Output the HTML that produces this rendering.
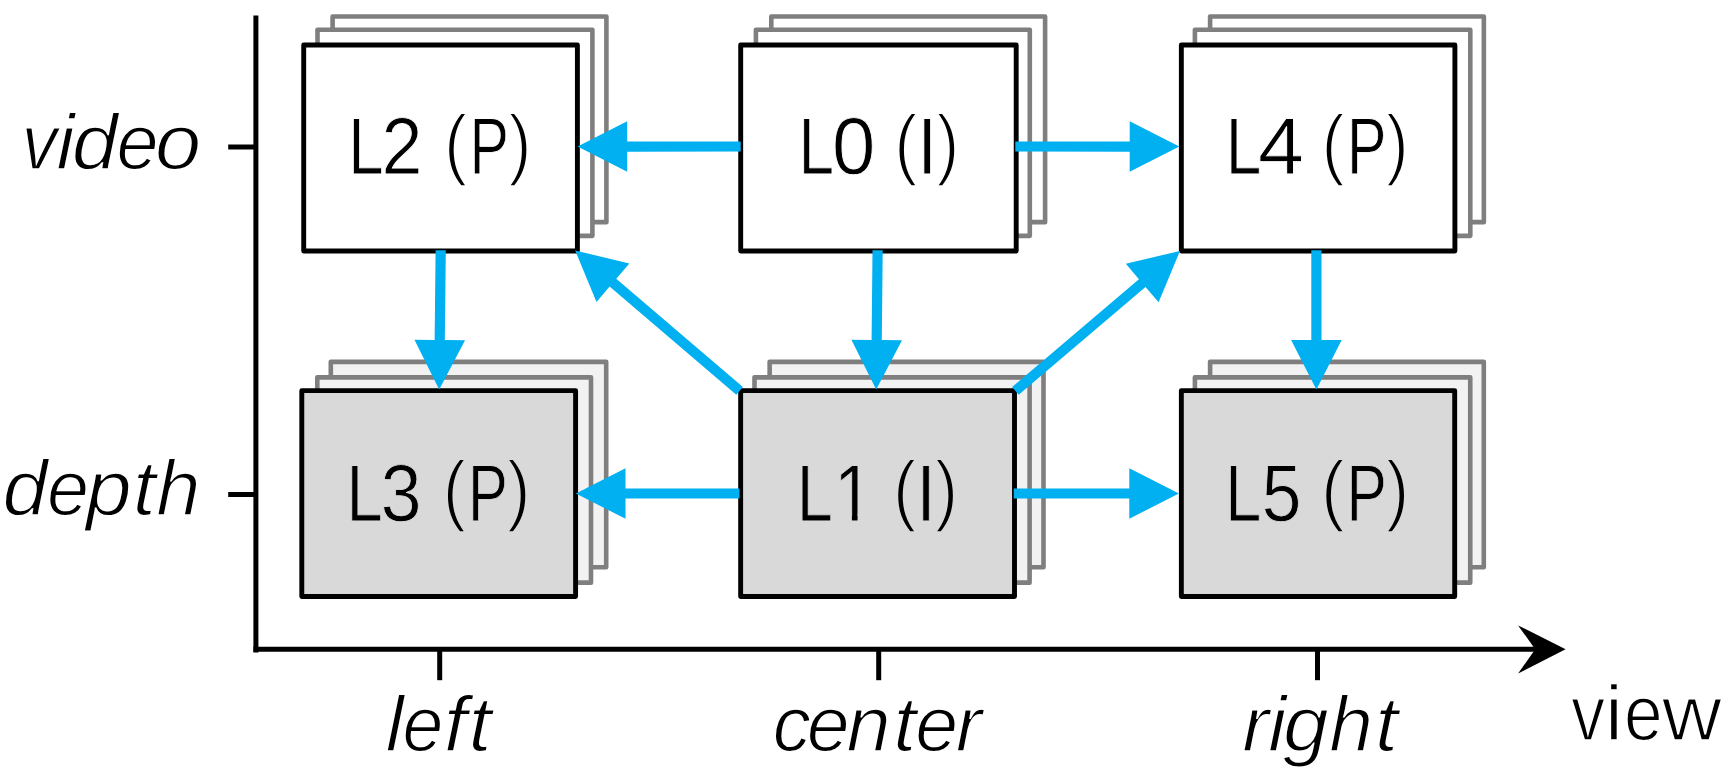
<!DOCTYPE html>
<html><head><meta charset="utf-8"><title>view/depth layer prediction structure</title>
<style>html,body{margin:0;padding:0;background:#fff}svg{display:block}text{font-family:"Liberation Sans",sans-serif;font-kerning:none;text-rendering:geometricPrecision}</style>
</head><body>
<svg width="1728" height="776" viewBox="0 0 1728 776">
<rect width="1728" height="776" fill="#fff"/>
<g stroke="#000" stroke-width="5" fill="none">
<path d="M255.9 15.5V652.5"/>
<path d="M253.4 649.3H1537"/>
<path d="M228.2 147H255"/>
<path d="M228.2 494.5H255"/>
<path d="M439.7 650V680.2"/>
<path d="M878.7 650V680.2"/>
<path d="M1317.5 650V680.2"/>
</g>
<path d="M1565.6 649.2L1518.1 625.4L1535.2 649.2L1518.1 673.6Z" fill="#000"/>
<rect x="332.60" y="16.45" width="273.80" height="205.70" fill="#fff" stroke="#7f7f7f" stroke-width="4.6" stroke-linejoin="round"/>
<rect x="317.50" y="29.75" width="274.90" height="206.10" fill="#fff" stroke="#7f7f7f" stroke-width="4.6" stroke-linejoin="round"/>
<rect x="303.70" y="45.05" width="273.70" height="206.00" fill="#fff" stroke="#000" stroke-width="4.9" stroke-linejoin="round"/>
<rect x="771.30" y="16.45" width="273.80" height="205.70" fill="#fff" stroke="#7f7f7f" stroke-width="4.6" stroke-linejoin="round"/>
<rect x="755.90" y="29.75" width="273.90" height="206.10" fill="#fff" stroke="#7f7f7f" stroke-width="4.6" stroke-linejoin="round"/>
<rect x="740.70" y="45.05" width="275.50" height="206.00" fill="#fff" stroke="#000" stroke-width="4.9" stroke-linejoin="round"/>
<rect x="1210.10" y="16.45" width="273.75" height="205.70" fill="#fff" stroke="#7f7f7f" stroke-width="4.6" stroke-linejoin="round"/>
<rect x="1194.90" y="29.75" width="275.40" height="206.10" fill="#fff" stroke="#7f7f7f" stroke-width="4.6" stroke-linejoin="round"/>
<rect x="1181.35" y="45.05" width="273.55" height="206.00" fill="#fff" stroke="#000" stroke-width="4.9" stroke-linejoin="round"/>
<rect x="330.80" y="361.85" width="275.40" height="205.40" fill="#f2f2f2" stroke="#7f7f7f" stroke-width="4.6" stroke-linejoin="round"/>
<rect x="317.30" y="377.35" width="273.70" height="205.30" fill="#f2f2f2" stroke="#7f7f7f" stroke-width="4.6" stroke-linejoin="round"/>
<rect x="301.80" y="390.65" width="273.80" height="205.90" fill="#d9d9d9" stroke="#000" stroke-width="4.9" stroke-linejoin="round"/>
<rect x="769.65" y="361.85" width="273.85" height="205.40" fill="#f2f2f2" stroke="#7f7f7f" stroke-width="4.6" stroke-linejoin="round"/>
<rect x="754.50" y="377.35" width="275.10" height="205.30" fill="#f2f2f2" stroke="#7f7f7f" stroke-width="4.6" stroke-linejoin="round"/>
<rect x="740.65" y="390.65" width="273.85" height="205.90" fill="#d9d9d9" stroke="#000" stroke-width="4.9" stroke-linejoin="round"/>
<rect x="1210.10" y="361.85" width="273.70" height="205.40" fill="#f2f2f2" stroke="#7f7f7f" stroke-width="4.6" stroke-linejoin="round"/>
<rect x="1194.90" y="377.35" width="275.35" height="205.30" fill="#f2f2f2" stroke="#7f7f7f" stroke-width="4.6" stroke-linejoin="round"/>
<rect x="1181.35" y="390.65" width="273.35" height="205.90" fill="#d9d9d9" stroke="#000" stroke-width="4.9" stroke-linejoin="round"/>
<text y="174" font-size="80.76" fill="#000" stroke="#fff" stroke-width="0.9"><tspan x="348.24" textLength="35.32" lengthAdjust="spacingAndGlyphs">L</tspan><tspan x="381.54" textLength="41.02" lengthAdjust="spacingAndGlyphs">2</tspan> <tspan x="444.00" y="169.96" font-size="78.68" stroke-width="1.9" textLength="23.36" lengthAdjust="spacingAndGlyphs">(</tspan><tspan x="469.39" y="174" textLength="39.48" lengthAdjust="spacingAndGlyphs">P</tspan><tspan x="508.14" y="169.96" font-size="78.68" stroke-width="1.9" textLength="23.36" lengthAdjust="spacingAndGlyphs">)</tspan></text>
<text y="174" font-size="80.76" fill="#000" stroke="#fff" stroke-width="0.9"><tspan x="798.50" textLength="35.57" lengthAdjust="spacingAndGlyphs">L</tspan><tspan x="831.91" textLength="43.34" lengthAdjust="spacingAndGlyphs">0</tspan> <tspan x="894.30" y="169.96" font-size="78.68" stroke-width="1.9" textLength="23.36" lengthAdjust="spacingAndGlyphs">(</tspan><tspan x="917.22" y="174" textLength="19.96" lengthAdjust="spacingAndGlyphs">I</tspan><tspan x="936.14" y="169.96" font-size="78.68" stroke-width="1.9" textLength="23.11" lengthAdjust="spacingAndGlyphs">)</tspan></text>
<text y="174" font-size="80.76" fill="#000" stroke="#fff" stroke-width="0.9"><tspan x="1225.80" textLength="35.57" lengthAdjust="spacingAndGlyphs">L</tspan><tspan x="1258.06" textLength="45.91" lengthAdjust="spacingAndGlyphs">4</tspan> <tspan x="1321.60" y="169.96" font-size="78.68" stroke-width="1.9" textLength="23.36" lengthAdjust="spacingAndGlyphs">(</tspan><tspan x="1346.89" y="174" textLength="39.48" lengthAdjust="spacingAndGlyphs">P</tspan><tspan x="1385.65" y="169.96" font-size="78.68" stroke-width="1.9" textLength="22.98" lengthAdjust="spacingAndGlyphs">)</tspan></text>
<text y="521" font-size="80.76" fill="#000" stroke="#d9d9d9" stroke-width="0.9"><tspan x="346.41" textLength="36.20" lengthAdjust="spacingAndGlyphs">L</tspan><tspan x="380.85" textLength="40.82" lengthAdjust="spacingAndGlyphs">3</tspan> <tspan x="442.70" y="516.36" font-size="78.68" stroke-width="1.9" textLength="23.36" lengthAdjust="spacingAndGlyphs">(</tspan><tspan x="468.05" y="521" textLength="39.85" lengthAdjust="spacingAndGlyphs">P</tspan><tspan x="506.83" y="516.36" font-size="78.68" stroke-width="1.9" textLength="23.86" lengthAdjust="spacingAndGlyphs">)</tspan></text>
<text y="521" font-size="80.76" fill="#000" stroke="#d9d9d9" stroke-width="0.9"><tspan x="796.77" textLength="36.14" lengthAdjust="spacingAndGlyphs">L</tspan><tspan x="834.08" textLength="39.21" lengthAdjust="spacingAndGlyphs">1</tspan> <tspan x="892.99" y="516.36" font-size="78.68" stroke-width="1.9" textLength="23.42" lengthAdjust="spacingAndGlyphs">(</tspan><tspan x="916.52" y="521" textLength="19.07" lengthAdjust="spacingAndGlyphs">I</tspan><tspan x="934.84" y="516.36" font-size="78.68" stroke-width="1.9" textLength="23.36" lengthAdjust="spacingAndGlyphs">)</tspan></text>
<text y="521" font-size="80.76" fill="#000" stroke="#d9d9d9" stroke-width="0.9"><tspan x="1225.33" textLength="36.07" lengthAdjust="spacingAndGlyphs">L</tspan><tspan x="1261.70" textLength="39.65" lengthAdjust="spacingAndGlyphs">5</tspan> <tspan x="1321.11" y="516.36" font-size="78.68" stroke-width="1.9" textLength="23.86" lengthAdjust="spacingAndGlyphs">(</tspan><tspan x="1346.49" y="521" textLength="40.35" lengthAdjust="spacingAndGlyphs">P</tspan><tspan x="1385.64" y="516.36" font-size="78.68" stroke-width="1.9" textLength="23.49" lengthAdjust="spacingAndGlyphs">)</tspan></text>
<path d="M836 514H851.9V523H836ZM857.55 514H873V523H857.55Z" fill="#d9d9d9"/>
<text y="169" font-size="78.18" font-style="italic" fill="#000" stroke="#fff" stroke-width="1.5"><tspan x="21.87" textLength="35.49" lengthAdjust="spacingAndGlyphs">v</tspan><tspan x="56.20" textLength="18.41" lengthAdjust="spacingAndGlyphs">i</tspan><tspan x="71.86" textLength="46.01" lengthAdjust="spacingAndGlyphs">d</tspan><tspan x="116.50" textLength="42.05" lengthAdjust="spacingAndGlyphs">e</tspan><tspan x="154.92" textLength="46.09" lengthAdjust="spacingAndGlyphs">o</tspan></text>
<text y="515" font-size="78.18" font-style="italic" fill="#000" stroke="#fff" stroke-width="1.5"><tspan x="2.42" textLength="45.09" lengthAdjust="spacingAndGlyphs">d</tspan><tspan x="47.01" textLength="41.94" lengthAdjust="spacingAndGlyphs">e</tspan><tspan x="85.90" textLength="45.70" lengthAdjust="spacingAndGlyphs">p</tspan><tspan x="132.87" textLength="23.02" lengthAdjust="spacingAndGlyphs">t</tspan><tspan x="156.23" textLength="44.16" lengthAdjust="spacingAndGlyphs">h</tspan></text>
<text y="751" font-size="78.18" font-style="italic" fill="#000" stroke="#fff" stroke-width="1.5"><tspan x="385.42" textLength="18.28" lengthAdjust="spacingAndGlyphs">l</tspan><tspan x="402.58" textLength="40.79" lengthAdjust="spacingAndGlyphs">e</tspan><tspan x="443.66" textLength="23.02" lengthAdjust="spacingAndGlyphs">f</tspan><tspan x="468.57" textLength="23.02" lengthAdjust="spacingAndGlyphs">t</tspan></text>
<text y="751" font-size="78.18" font-style="italic" fill="#000" stroke="#fff" stroke-width="1.5"><tspan x="772.65" textLength="38.15" lengthAdjust="spacingAndGlyphs">c</tspan><tspan x="806.75" textLength="42.86" lengthAdjust="spacingAndGlyphs">e</tspan><tspan x="846.53" textLength="44.12" lengthAdjust="spacingAndGlyphs">n</tspan><tspan x="893.17" textLength="23.02" lengthAdjust="spacingAndGlyphs">t</tspan><tspan x="915.35" textLength="42.86" lengthAdjust="spacingAndGlyphs">e</tspan><tspan x="955.74" textLength="26.25" lengthAdjust="spacingAndGlyphs">r</tspan></text>
<text y="751" font-size="78.18" font-style="italic" fill="#000" stroke="#fff" stroke-width="1.5"><tspan x="1242.21" textLength="26.82" lengthAdjust="spacingAndGlyphs">r</tspan><tspan x="1268.05" textLength="18.41" lengthAdjust="spacingAndGlyphs">i</tspan><tspan x="1283.09" textLength="45.68" lengthAdjust="spacingAndGlyphs">g</tspan><tspan x="1329.35" textLength="43.71" lengthAdjust="spacingAndGlyphs">h</tspan><tspan x="1375.02" textLength="23.02" lengthAdjust="spacingAndGlyphs">t</tspan></text>
<text y="740" font-size="77.99" fill="#000" stroke="#fff" stroke-width="1.6"><tspan x="1571.37" textLength="33.76" lengthAdjust="spacingAndGlyphs">v</tspan><tspan x="1604.84" textLength="18.37" lengthAdjust="spacingAndGlyphs">i</tspan><tspan x="1623.95" textLength="38.64" lengthAdjust="spacingAndGlyphs">e</tspan><tspan x="1661.96" textLength="59.70" lengthAdjust="spacingAndGlyphs">w</tspan></text>
<path d="M740.70 141.40L627.20 141.47L627.18 121.27L577.60 146.60L627.22 171.87L627.20 151.67L740.70 151.60Z" fill="#00b0f0"/>
<path d="M1015.30 151.60L1129.70 151.67L1129.68 171.87L1179.30 146.60L1129.72 121.27L1129.70 141.47L1015.30 141.40Z" fill="#00b0f0"/>
<path d="M739.50 488.40L625.50 488.40L625.50 468.20L575.90 493.50L625.50 518.80L625.50 498.60L739.50 498.60Z" fill="#00b0f0"/>
<path d="M1013.70 498.60L1129.30 498.60L1129.30 518.80L1178.90 493.50L1129.30 468.20L1129.30 488.40L1013.70 488.40Z" fill="#00b0f0"/>
<path d="M435.60 250.25L434.63 339.95L414.44 339.73L439.20 389.60L465.03 340.28L444.83 340.06L445.80 250.35Z" fill="#00b0f0"/>
<path d="M872.50 250.25L871.60 339.95L851.40 339.75L876.20 389.60L902.00 340.26L881.80 340.05L882.70 250.35Z" fill="#00b0f0"/>
<path d="M1311.30 250.30L1311.30 340.00L1291.10 340.00L1316.40 389.60L1341.70 340.00L1321.50 340.00L1321.50 250.30Z" fill="#00b0f0"/>
<path d="M742.91 387.02L616.23 278.83L629.35 263.47L575.20 250.50L596.49 301.95L609.61 286.59L736.29 394.78Z" fill="#00b0f0"/>
<path d="M1018.70 394.78L1145.52 286.92L1158.61 302.31L1180.00 250.90L1125.83 263.76L1138.91 279.15L1012.10 387.02Z" fill="#00b0f0"/>
</svg>
</body></html>
